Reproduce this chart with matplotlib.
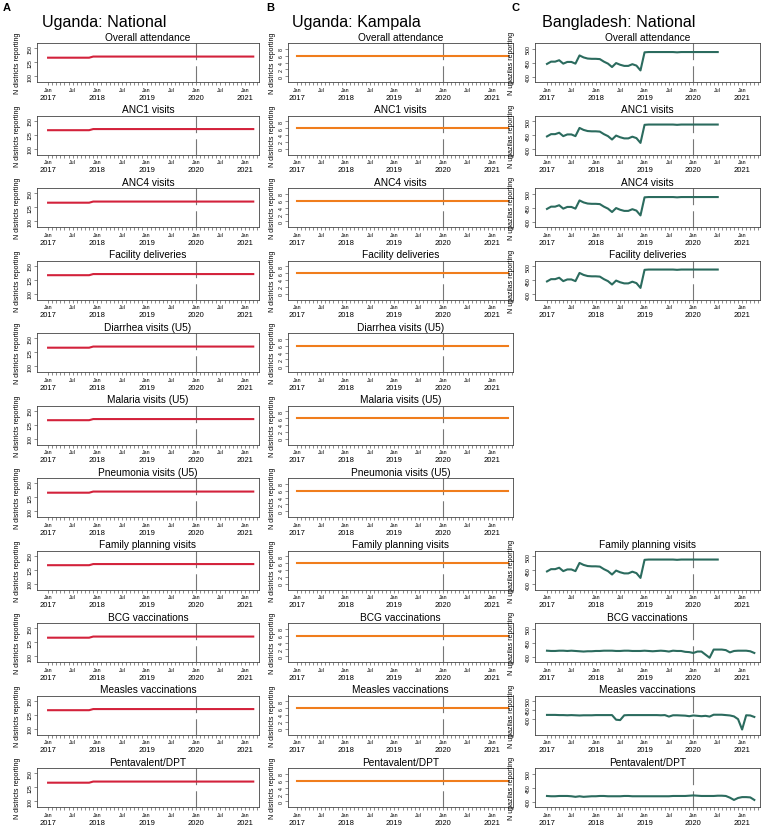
import matplotlib
matplotlib.use("Agg")
import matplotlib.pyplot as plt

plt.rcParams['font.family'] = ['Liberation Sans', 'DejaVu Sans']

# indicator names (rows)
indicators = ["Overall attendance", "ANC1 visits", "ANC4 visits", "Facility deliveries",
              "Diarrhea visits (U5)", "Malaria visits (U5)", "Pneumonia visits (U5)",
              "Family planning visits", "BCG vaccinations", "Measles vaccinations",
              "Pentavalent/DPT"]

# Uganda national: districts reporting, Jan 2017 - Mar 2021
ug_national = [133, 133, 133, 133, 133, 133, 133, 133, 133, 133, 133, 135,
               135, 135, 135, 135, 135, 135, 135, 135, 135, 135, 135, 135,
               135, 135, 135, 135, 135, 135, 135, 135, 135, 135, 135, 135,
               135, 135, 135, 135, 135, 135, 135, 135, 135, 135, 135, 135,
               135, 135, 135]

# Uganda Kampala: districts reporting, Jan 2017 - May 2021
ug_kampala = [6, 6, 6, 6, 6, 6, 6, 6, 6, 6, 6, 6,
              6, 6, 6, 6, 6, 6, 6, 6, 6, 6, 6, 6,
              6, 6, 6, 6, 6, 6, 6, 6, 6, 6, 6, 6,
              6, 6, 6, 6, 6, 6, 6, 6, 6, 6, 6, 6,
              6, 6, 6, 6, 6]

# Bangladesh: upazilas reporting, Jan 2017 - Jul 2020 (attendance, ANC, deliveries, FP)
bd_main = [446, 454, 454, 459, 447, 453, 453, 447, 476, 469, 465, 464,
           464, 463, 454, 447, 435, 449, 443, 439, 439, 445, 440, 423,
           487, 488, 488, 488, 488, 488, 488, 488, 487, 488, 488, 488,
           488, 488, 488, 488, 488, 488, 488]

# Bangladesh vaccinations, Jan 2017 - Apr 2021
bd_bcg = [422, 421, 421, 422, 422, 421, 422, 421, 420, 419, 420, 420,
          421, 421, 422, 422, 422, 421, 421, 422, 422, 421, 421, 421,
          422, 421, 420, 421, 422, 421, 419, 422, 421, 421, 418, 417,
          414, 419, 419, 408, 397, 426, 426, 426, 424, 416, 421, 422,
          422, 422, 420, 414]
bd_measles = [423, 423, 423, 422, 422, 421, 422, 421, 420, 421, 421, 421,
              422, 422, 422, 422, 422, 397, 395, 421, 422, 422, 422, 422,
              422, 422, 422, 422, 421, 422, 414, 421, 421, 420, 419, 416,
              420, 418, 416, 418, 414, 424, 424, 424, 422, 420, 415, 400,
              344, 421, 420, 412]
bd_penta = [421, 420, 420, 421, 421, 421, 420, 418, 420, 418, 419, 420,
            420, 421, 421, 420, 420, 420, 420, 421, 421, 420, 420, 420,
            420, 420, 420, 420, 420, 420, 420, 421, 421, 421, 421, 422,
            423, 422, 421, 421, 421, 421, 422, 422, 421, 415, 407, 414,
            417, 417, 416, 407]

bd_series = [bd_main, bd_main, bd_main, bd_main, None, None, None,
             bd_main, bd_bcg, bd_measles, bd_penta]

years = ["2017", "2018", "2019", "2020", "2021"]
covid_start = 36  # Jan 2020

W, H = 767, 828
fig = plt.figure(figsize=(W / 100, H / 100), dpi=100)

col_left = [37, 288, 535]
col_right = [259, 513, 760]
col_xlim = [(-2.7, 51.4), (-2.2, 53.2), (-2.95, 52.4)]
col_ylim = [(90, 159), (-1.7, 9.7), (382, 520)]
measles_ylim = (317, 528)
col_yticks = [[100, 125, 150], [0, 2, 4, 6, 8], [400, 450, 500]]
col_color = ['#d3223b', '#f07d1c', '#2b6b5e']
col_ylabel = ["N districts reporting", "N districts reporting", "N upazilas reporting"]
col_ylab_off = [16, 12, 20]
headers = ["Uganda: National", "Uganda: Kampala", "Bangladesh: National"]
header_x = [42, 292, 542]
letters = ["A", "B", "C"]
letter_x = [3, 266, 512]


def style_axis(ax, c, ylim):
    for s in ax.spines.values():
        s.set_color('#444444')
        s.set_linewidth(0.6)
    x0, x1 = col_xlim[c]
    ax.set_xlim(x0, x1)
    minor = [m for m in range(0, int(x1) + 1)]
    major = [m for m in minor if m % 6 == 0]
    ax.set_xticks(minor, minor=True)
    ax.set_xticks(major)
    ax.set_xticklabels(["Jan" if m % 12 == 0 else "Jul" for m in major], fontsize=3.8)
    ax.tick_params(axis='x', which='both', length=2.2, width=0.4, pad=1.2,
                   color='#333333', direction='out')
    for m in major:
        if m % 12 == 0:
            ax.annotate(years[m // 12], xy=(m, 0), xycoords=('data', 'axes fraction'),
                        xytext=(0, -11), textcoords='offset points',
                        ha='center', va='center', fontsize=5.5)
    ax.set_yticks(col_yticks[c])
    ax.set_yticklabels([str(t) for t in col_yticks[c]], rotation=90, va='center',
                       fontsize=3.8)
    ax.tick_params(axis='y', length=2.2, width=0.4, pad=1.0, color='#333333')
    ax.set_ylim(*ylim)
    ax.set_ylabel(col_ylabel[c], fontsize=5)
    w = col_right[c] - col_left[c]
    ax.yaxis.set_label_coords(-col_ylab_off[c] / w, 0.5)
    ax.plot([covid_start, covid_start], [1, 0], transform=ax.get_xaxis_transform(),
            color='#777777', lw=0.8, dashes=(15, 5.5), zorder=1)


for c in range(3):
    for r, name in enumerate(indicators):
        ylim = col_ylim[c]
        if c == 0:
            vals = ug_national
        elif c == 1:
            vals = ug_kampala
        else:
            vals = bd_series[r]
            if vals is None:
                continue
            if vals is bd_measles:
                ylim = measles_ylim
        top = 44 + 72.5 * r
        ax = fig.add_axes([col_left[c] / W, 1 - (top + 39) / H,
                           (col_right[c] - col_left[c]) / W, 39 / H])
        ax.plot(range(len(vals)), vals, color=col_color[c], lw=1.5, zorder=3)
        ax.set_title(name, fontsize=7.3, pad=2.5)
        style_axis(ax, c, ylim)

    fig.text(header_x[c] / W, 1 - 23 / H, headers[c], fontsize=11.6, ha='left', va='center')
    fig.text(letter_x[c] / W, 1 - 8 / H, letters[c], fontsize=8, fontweight='bold',
             ha='left', va='center')

fig.savefig("out.png", dpi=100)
